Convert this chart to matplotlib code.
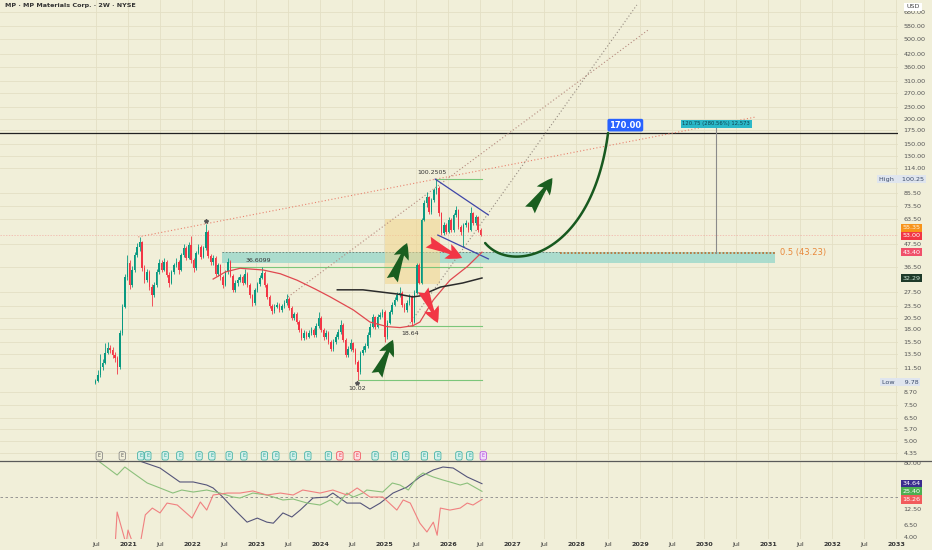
import numpy as np
import matplotlib
matplotlib.use("Agg")
import matplotlib.pyplot as plt
import matplotlib.transforms as mtransforms
from matplotlib.patches import Rectangle
from matplotlib.ticker import FixedLocator, NullLocator, FuncFormatter

plt.rcParams['font.family'] = ['DejaVu Sans']

# --- 2W candles, MP Materials ---
first_bar = 2020.49            # decimal year of the first bar
bar_step = 14 / 365.25
first_open = 9.7
closes = [
    9.9, 10.6, 11.6, 12.2, 13.7, 14.5, 14.2, 13.4, 12.9, 11.6,
    17.2, 23.2, 32.7, 38.3, 29.8, 35.4, 42.0, 46.0, 48.7, 36.1,
    31.5, 34.6, 29.1, 26.6, 29.8, 34.6, 38.3, 35.4, 38.8, 33.5,
    30.5, 34.6, 37.4, 38.8, 35.4, 42.0, 45.5, 40.6, 47.1, 39.8,
    36.1, 43.2, 46.0, 41.1, 45.5, 54.7, 41.5, 38.8, 40.6, 33.9,
    37.4, 32.7, 29.8, 34.6, 38.8, 33.1, 28.2, 30.5, 31.5, 32.7,
    30.5, 33.9, 29.8, 26.6, 24.2, 28.2, 30.1, 32.3, 34.2, 29.8,
    26.0, 23.4, 22.1, 23.2, 23.7, 22.4, 23.4, 24.2, 25.4, 22.9,
    20.4, 21.3, 19.5, 17.8, 16.2, 17.2, 16.4, 17.2, 17.8, 16.8,
    18.7, 20.4, 17.8, 16.4, 17.2, 15.5, 14.3, 15.5, 16.4, 17.4,
    18.9, 15.9, 13.4, 14.3, 15.3, 14.2, 12.3,
    11.0, 13.7, 14.2, 14.8, 16.8, 18.5, 20.6, 18.5, 20.6, 21.1,
    21.9, 16.4, 19.3, 21.9, 23.7, 25.1, 26.6, 27.2, 23.7, 22.4,
    24.2, 26.0, 19.5, 27.2, 37.4, 30.5, 63.0, 76.3, 81.7, 68.8,
    79.0, 88.5, 91.0, 67.9, 54.1, 59.3, 54.7, 63.0, 56.0, 66.5,
    70.4, 57.9, 54.7, 59.3, 60.7, 56.0, 67.9, 60.7, 64.9, 56.0,
    53.0,
]
highs = [
    10.2, 11.2, 13.5, 12.8, 15.3, 15.5, 15.0, 14.6, 13.8, 13.2,
    17.8, 24.0, 34.0, 42.0, 39.5, 37.0, 43.5, 48.0, 51.6, 49.5,
    37.5, 36.0, 35.5, 30.0, 31.0, 36.0, 40.0, 39.5, 40.5, 39.5,
    34.5, 35.5, 38.5, 40.5, 39.5, 43.0, 47.5, 46.5, 48.5, 52.0,
    40.5, 44.0, 47.5, 47.0, 46.5, 60.0, 56.0, 42.5, 42.0, 41.5,
    38.5, 38.0, 33.5, 35.5, 40.5, 39.5, 33.8, 31.5, 32.5, 34.0,
    33.5, 36.0, 34.5, 30.5, 27.0, 28.8, 31.0, 33.5, 36.6, 34.8,
    30.5, 26.5, 24.0, 24.0, 24.5, 24.2, 24.0, 25.0, 26.8, 26.0,
    23.3, 22.0, 21.8, 19.9, 18.2, 17.8, 17.6, 17.8, 18.5, 18.2,
    19.3, 21.9, 20.8, 18.2, 17.8, 17.6, 15.8, 16.0, 17.0, 18.0,
    20.0, 19.3, 16.2, 14.8, 16.0, 15.6, 14.5,
    12.6, 14.0, 14.8, 15.4, 17.3, 19.2, 21.5, 21.0, 21.3, 22.0,
    22.6, 22.3, 20.0, 22.5, 24.5, 26.0, 27.5, 29.0, 27.8, 24.2,
    25.0, 27.0, 26.5, 28.0, 38.5, 38.5, 64.5, 79.0, 86.0, 83.0,
    81.0, 90.5, 100.25, 92.5, 69.0, 61.0, 60.5, 65.0, 64.0, 68.0,
    74.0, 71.5, 59.0, 60.5, 62.5, 61.5, 73.0, 69.0, 66.5, 66.0,
    57.0,
]
lows = [
    9.6, 9.8, 10.4, 11.3, 12.0, 13.5, 13.6, 12.9, 12.4, 10.8,
    11.4, 16.8, 23.0, 31.5, 28.5, 29.0, 34.5, 41.0, 44.0, 35.0,
    30.5, 30.8, 28.0, 23.5, 26.0, 29.0, 33.8, 34.5, 35.0, 32.5,
    29.0, 30.0, 34.0, 36.5, 34.0, 35.0, 41.0, 39.5, 40.0, 38.5,
    34.5, 35.5, 42.5, 40.0, 40.5, 44.5, 40.5, 37.5, 37.5, 33.0,
    33.0, 31.5, 28.8, 29.5, 34.0, 32.5, 27.5, 27.5, 29.5, 30.8,
    29.8, 30.0, 29.0, 25.8, 23.5, 23.8, 27.5, 29.5, 31.8, 29.0,
    25.5, 22.8, 21.5, 21.6, 22.8, 21.8, 22.0, 23.0, 23.8, 22.4,
    20.0, 20.0, 19.0, 17.4, 15.9, 15.9, 16.0, 16.2, 16.9, 16.4,
    16.5, 18.3, 17.4, 15.9, 16.0, 15.2, 14.0, 14.0, 15.2, 16.0,
    17.0, 15.5, 13.0, 13.0, 14.0, 13.8, 12.0,
    10.02, 10.8, 13.4, 13.9, 14.5, 16.5, 18.2, 18.0, 18.2, 20.2,
    20.6, 15.5, 16.0, 19.0, 21.5, 23.3, 24.7, 26.0, 23.2, 21.8,
    22.0, 23.8, 18.64, 19.2, 27.0, 30.0, 30.2, 62.0, 73.0, 67.0,
    67.5, 77.5, 85.0, 66.0, 53.0, 53.0, 53.5, 54.0, 55.0, 55.0,
    65.0, 56.5, 53.0, 46.0, 58.0, 55.0, 55.5, 59.5, 59.5, 55.0,
    52.0,
]

# moving averages (decimal year, price)
ma_red_t = [2022.33, 2022.52, 2022.75, 2023.11, 2023.38, 2023.64, 2023.92, 2024.16, 2024.52,
            2024.78, 2025.05, 2025.25, 2025.45, 2025.56, 2025.77, 2026.03, 2026.30, 2026.53]
ma_red_v = [31.9, 34.6, 36.1, 35.4, 33.9, 31.5, 28.5, 26.0, 22.4,
            19.5, 18.5, 18.3, 18.7, 19.5, 25.1, 31.5, 36.8, 43.4]
ma_dark_t = [2024.27, 2024.67, 2025.20, 2025.45, 2025.56, 2025.88, 2026.23, 2026.53]
ma_dark_v = [28.2, 28.2, 26.9, 26.0, 26.3, 29.1, 30.5, 32.29]

# lower pane (ADX / +DI / -DI)
adx_t = [2021.19, 2021.50, 2021.81, 2022.02, 2022.23, 2022.33, 2022.48, 2022.64, 2022.86, 2023.02,
         2023.17, 2023.27, 2023.42, 2023.56, 2023.69, 2023.89, 2024.11, 2024.20, 2024.42, 2024.63,
         2024.78, 2024.94, 2025.14, 2025.36, 2025.56, 2025.77, 2025.92, 2026.08, 2026.30, 2026.53]
adx_v = [86, 65.3, 37.1, 37.1, 32.8, 29.1, 20.2, 12.9, 7.3, 8.6,
         7.3, 7.0, 10.6, 9.0, 11.9, 19.4, 20.2, 23.7, 15.8, 15.8,
         12.4, 15.8, 23.7, 30.3, 45.4, 60.3, 68.0, 65.3, 45.4, 34.64]
pdi_t = [2020.56, 2020.83, 2020.95, 2021.08, 2021.30, 2021.50, 2021.70, 2021.84, 2022.02, 2022.23,
         2022.44, 2022.64, 2022.75, 2022.95, 2023.17, 2023.42, 2023.58, 2023.80, 2024.00, 2024.16,
         2024.27, 2024.42, 2024.52, 2024.67, 2024.73, 2024.98, 2025.13, 2025.25, 2025.38, 2025.52,
         2025.61, 2025.77, 2025.92, 2026.03, 2026.19, 2026.30, 2026.53]
pdi_v = [83, 49.2, 68.0, 53.4, 35.6, 29.1, 23.7, 26.8, 24.7, 26.8,
         23.7, 20.2, 19.4, 23.7, 21.9, 17.9, 18.6, 15.8, 14.6, 17.9,
         14.6, 23.7, 20.2, 23.7, 26.8, 24.7, 35.6, 32.8, 26.8, 45.4,
         53.4, 45.4, 40.2, 37.1, 32.8, 35.6, 25.4]
mdi_t = [2020.80, 2020.83, 2020.97, 2021.00, 2021.08, 2021.19, 2021.27, 2021.38, 2021.50, 2021.61,
         2021.77, 2022.00, 2022.13, 2022.23, 2022.33, 2022.55, 2022.75, 2022.95, 2023.17, 2023.38,
         2023.58, 2023.73, 2024.00, 2024.20, 2024.42, 2024.58, 2024.78, 2024.98, 2025.20, 2025.30,
         2025.41, 2025.56, 2025.67, 2025.77, 2025.83, 2025.88, 2026.03, 2026.19, 2026.30, 2026.39,
         2026.53]
mdi_v = [3.0, 11.0, 3.0, 5.3, 3.0, 3.0, 9.8, 12.9, 10.6, 15.8,
         14.6, 8.6, 16.5, 11.9, 21.9, 23.7, 23.7, 25.8, 21.9, 23.7,
         21.9, 26.8, 23.7, 26.8, 21.9, 29.1, 20.2, 20.2, 11.9, 17.9,
         15.8, 7.0, 4.9, 7.3, 4.3, 12.9, 11.9, 12.9, 15.8, 14.6,
         18.26]

# earnings flags: n = no data, b = beat, m = miss, f = upcoming
earn_t = [2020.55, 2020.91, 2021.20, 2021.31, 2021.58, 2021.81, 2022.11, 2022.31, 2022.58, 2022.81,
          2023.13, 2023.31, 2023.58, 2023.81, 2024.13, 2024.31, 2024.58, 2024.86, 2025.16, 2025.34,
          2025.63, 2025.84, 2026.17, 2026.34, 2026.55]
earn_kind = ['n', 'n', 'b', 'b', 'b', 'b', 'b', 'b', 'b', 'b',
             'b', 'b', 'b', 'b', 'b', 'm', 'm', 'b', 'b', 'b',
             'b', 'b', 'b', 'b', 'f']

# right scale ticks
price_ticks = [680, 580, 500, 420, 360, 310, 270, 230, 200, 175, 150, 130, 114,
               85.5, 73.5, 63.5, 47.5, 36.5, 27.5, 23.5, 20.5, 18, 15.5, 13.5, 11.5,
               8.7, 7.5, 6.5, 5.7, 5.0, 4.35]
ind_ticks = [80, 12.5, 6.5, 4.0]

# drawings
target_price = 170.0
fib_price = 43.23
zone = (2022.47, 2031.11, 38.4, 43.5)
pos_box = (2025.02, 2025.88, 30.1, 63.5)
green_levels = [(36.61, 2022.59), (18.64, 2025.38), (10.02, 2024.59), (100.25, 2025.80)]
level_end = 2026.53
trend_a = [(2021.16, 51.7), (2030.80, 204)]
trend_b = [(2023.50, 26.0), (2029.125, 553)]
trend_c = [(2025.375, 18.64), (2028.95, 737)]
chan_up = [(2025.80, 100.25), (2026.63, 66.5)]
chan_dn = [(2025.84, 52.8), (2026.63, 40.2)]
arrows_up = [((2024.89, 10.6), (2025.14, 15.9)), ((2025.13, 31.5), (2025.36, 48.2)),
             ((2027.28, 70.4), (2027.63, 101.5))]
arrows_dn = [((2025.61, 28.2), (2025.84, 19.3)), ((2025.69, 48.7), (2026.22, 40.6))]
path_t = [2026.58, 2027.0, 2028.25, 2028.5]      # cubic curve control points
path_v = [48.2, 33.4, 42.0, 170]

BG = '#f1efd9'
GRID = '#e3dfc4'
UP = '#089981'
DN = '#f23645'

fig = plt.figure(figsize=(9.32, 5.5), dpi=100, facecolor=BG)
ax = fig.add_axes([0, 90 / 550, 898 / 932, 460 / 550], facecolor=BG)
axi = fig.add_axes([0, 11 / 550, 898 / 932, 77 / 550], facecolor=BG, sharex=ax)

for a in (ax, axi):
    for s in a.spines.values():
        s.set_visible(False)

ax.set_yscale('log')
ax.set_ylim(4.015, 780)
ax.set_xlim(2019.0, 2033.03)

# x ticks
tick_pos, tick_lab = [], []
for yr in range(2020, 2033):
    tick_pos += [yr + 0.5, yr + 1]
    tick_lab += ['Jul', str(yr + 1)]
for a in (ax, axi):
    a.xaxis.set_major_locator(FixedLocator(tick_pos))
    a.grid(True, which='major', color=GRID, lw=0.6)
    a.set_axisbelow(True)
ax.tick_params(axis='x', length=0, labelbottom=False)
axi.tick_params(axis='x', length=0, pad=2, labelsize=4.6, labelcolor='#333')
axi.set_xticklabels(tick_lab)
for lab in axi.get_xticklabels():
    if lab.get_text() != 'Jul':
        lab.set_fontweight('bold')

# price scale
ax.yaxis.tick_right()
ax.yaxis.set_major_locator(FixedLocator(price_ticks))
ax.yaxis.set_minor_locator(NullLocator())
ax.yaxis.set_major_formatter(FuncFormatter(lambda v, p: f'{v:.2f}'))
ax.tick_params(axis='y', length=0, pad=4, labelsize=4.6, labelcolor='#555')

# candles
n = len(closes)
t = first_bar + np.arange(n) * bar_step
c = np.array(closes)
o = np.r_[first_open, c[:-1]]
h = np.array(highs)
l = np.array(lows)
col = np.where(c >= o, UP, DN)
ax.vlines(t, l, h, colors=col, lw=0.6, zorder=3)
ax.bar(t, np.abs(c - o) + 0.01, bottom=np.minimum(o, c), width=bar_step * 0.62,
       color=col, lw=0, zorder=4)

# zones / boxes
ax.add_patch(Rectangle((zone[0], zone[2]), zone[1] - zone[0], zone[3] - zone[2],
                       fc='#9fd9cc', ec='none', alpha=0.85, zorder=1.5))
ax.plot([zone[0], 2027.75], [zone[3], zone[3]], color='#6b7a70', lw=0.6, ls=(0, (2, 2)), zorder=2)
ax.plot([2027.75, zone[1]], [fib_price, fib_price], color='#b8733a', lw=1.3, ls=(0, (1, 1)), zorder=2)
ax.text(zone[1] + 0.08, fib_price, '0.5 (43.23)', color='#e8883a', fontsize=6, va='center', ha='left')
ax.add_patch(Rectangle((pos_box[0], pos_box[2]), pos_box[1] - pos_box[0], pos_box[3] - pos_box[2],
                       fc='#f1d48c', ec='none', alpha=0.55, zorder=2))

# horizontal green levels
for lv, start in green_levels:
    ax.plot([start, level_end], [lv, lv], color='#7cc67a', lw=0.8, zorder=2.5)
ax.text(2023.03, 39.3, '36.6099', fontsize=4.5, color='#333', ha='center', va='center', zorder=6)
ax.text(2025.41, 17.1, '18.64', fontsize=4.5, color='#333', ha='center', va='center', zorder=6)
ax.text(2024.58, 9.15, '10.02', fontsize=4.5, color='#333', ha='center', va='center', zorder=6)
ax.text(2025.75, 108, '100.2505', fontsize=4.5, color='#333', ha='center', va='center', zorder=6)
ax.plot([2022.22, 2024.58], [62, 9.75], ls='none', marker='*', ms=3, color='#555', zorder=6)

# trend lines
for pts, clr in ((trend_a, '#e8826e'), (trend_b, '#b58a7e'), (trend_c, '#958a80')):
    ax.plot([pts[0][0], pts[1][0]], [pts[0][1], pts[1][1]], color=clr, lw=0.8,
            ls=(0, (1, 2)), zorder=2.5)
for pts in (chan_up, chan_dn):
    ax.plot([pts[0][0], pts[1][0]], [pts[0][1], pts[1][1]], color='#3f46a8', lw=0.9, zorder=5)

# moving averages
ax.plot(ma_red_t, ma_red_v, color='#e0484f', lw=0.9, zorder=5)
ax.plot(ma_dark_t, ma_dark_v, color='#2b2b2b', lw=1.1, zorder=5)

# target line and projected path (cubic bezier on the log-price plane)
ax.axhline(target_price, color='#222', lw=0.9, zorder=2)
s = np.linspace(0, 1, 80)[:, None]
bern = np.hstack([(1 - s) ** 3, 3 * s * (1 - s) ** 2, 3 * s ** 2 * (1 - s), s ** 3])
ax.plot(bern @ np.array(path_t), np.exp(bern @ np.log(path_v)), color='#17591f', lw=1.8,
        solid_capstyle='round', zorder=6)
ax.text(2028.77, 186, '170.00', fontsize=6, color='white', weight='bold', ha='center',
        va='center', zorder=7, bbox=dict(boxstyle='round,pad=0.22', fc='#2962ff', ec='none'))

# measure tool
ax.plot([2030.19, 2030.19], [fib_price, 180], color='#8a8a8a', lw=0.8, zorder=2)
ax.text(2030.19, 188.5, '120.75 (280.56%) 12,573', fontsize=3.8, color='#0d4050', ha='center',
        va='center', zorder=7, bbox=dict(boxstyle='square,pad=0.3', fc='#2cb8c8', ec='none'))

# fat arrows
for (tail, head), clr in [(a, '#1a5e20') for a in arrows_up] + [(a, '#f23645') for a in arrows_dn]:
    ax.annotate('', xy=head, xytext=tail, zorder=8,
                arrowprops=dict(arrowstyle='fancy,head_length=0.6,head_width=0.6,tail_width=0.45',
                                fc=clr, ec='none', mutation_scale=19, shrinkA=0, shrinkB=0))

# price line
ax.axhline(closes[-1], color=DN, lw=0.5, alpha=0.35, ls=(0, (2, 2)), zorder=1)

# earnings flags
blend = mtransforms.blended_transform_factory(ax.transData, ax.transAxes)
flag_style = {'n': ('#f1efd9', '#777', '#555'), 'b': ('#d5f0ea', '#26a69a', '#26a69a'),
              'm': ('#fbe0e2', '#f23645', '#f23645'), 'f': ('#f0dcf8', '#b040e0', '#b040e0')}
for et, k in zip(earn_t, earn_kind):
    fc, ec, tc = flag_style[k]
    ax.text(et, 0.009, 'E', transform=blend, fontsize=3.4, color=tc, ha='center', va='center',
            zorder=8, bbox=dict(boxstyle='round,pad=0.35', fc=fc, ec=ec, lw=0.5))

# right-scale labels with boxes
yb = mtransforms.blended_transform_factory(ax.transAxes, ax.transData)
xr = 1 + 4.5 / 898


def side_label(axis, tr, val, txt, fc, tc, x=xr):
    axis.text(x, val, txt, transform=tr, fontsize=4.6, color=tc, ha='left', va='center',
              zorder=10, clip_on=False,
              bbox=dict(boxstyle='square,pad=0.25', fc=fc, ec='none'))


side_label(ax, yb, 100.25, 'High    100.25', '#dfe5ee', '#3a4a6a', x=879 / 898)
side_label(ax, yb, 9.78, 'Low     9.78', '#dfe5ee', '#3a4a6a', x=882 / 898)
side_label(ax, yb, 57.3, '55.35', '#f7931a', '#fff3e0')
side_label(ax, yb, 52.4, '53.00', '#f23645', 'white')
side_label(ax, yb, 43.4, '43.40', '#f0506a', 'white')
side_label(ax, yb, 32.29, '32.29', '#1e3a2a', '#cfe8d8')

fig.text(913 / 932, 1 - 7 / 550, 'USD', fontsize=4.6, color='#444', ha='center', va='center',
         bbox=dict(boxstyle='square,pad=0.3', fc='white', ec='none'))
fig.text(0.005, 1 - 6 / 550, 'MP · MP Materials Corp. · 2W · NYSE', fontsize=4.6,
         color='#333', weight='bold', ha='left', va='center')

# lower pane
axi.set_yscale('log')
axi.set_ylim(3.69, 83.3)
axi.yaxis.tick_right()
axi.yaxis.set_major_locator(FixedLocator(ind_ticks))
axi.yaxis.set_minor_locator(NullLocator())
axi.yaxis.set_major_formatter(FuncFormatter(lambda v, p: f'{v:.2f}'))
axi.tick_params(axis='y', length=0, pad=4, labelsize=4.6, labelcolor='#555')
axi.grid(False, axis='y')
axi.axhline(20, color='#888', lw=0.6, ls=(0, (3, 3)))
axi.plot(adx_t, adx_v, color='#55557a', lw=0.8)
axi.plot(pdi_t, pdi_v, color='#8cc07c', lw=0.8)
axi.plot(mdi_t, mdi_v, color='#f08080', lw=0.8)
yi = mtransforms.blended_transform_factory(axi.transAxes, axi.transData)
side_label(axi, yi, 34.64, '34.64', '#3b2b8f', 'white')
side_label(axi, yi, 25.4, '25.40', '#4caf50', 'white')
side_label(axi, yi, 18.26, '18.26', '#f25c5c', 'white')

# pane separator
fig.add_artist(plt.Line2D([0, 1], [1 - 461 / 550, 1 - 461 / 550], transform=fig.transFigure,
                          color='#5a5a5a', lw=0.9))

fig.savefig('out.png', dpi=100, facecolor=BG)
